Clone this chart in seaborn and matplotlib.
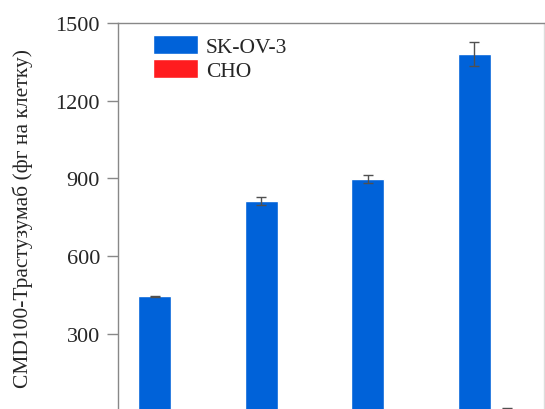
import pandas as pd
import seaborn as sns
import matplotlib.pyplot as plt

# Data
groups = ["1", "2", "3", "4"]
skov3_values = [445, 814, 898, 1380]
skov3_errors = [3, 15, 15, 45]
cho_values = [3, 5, 6, 12]
cho_errors = [1, 1, 1, 2]

data = pd.DataFrame({
    "group": groups * 2,
    "line": ["SK-OV-3"] * 4 + ["CHO"] * 4,
    "value": skov3_values + cho_values,
})
errors = skov3_errors + cho_errors

sns.set_theme(style="white")
plt.rcParams["font.family"] = ["Liberation Serif", "DejaVu Serif"]

fig = plt.figure(figsize=(5.45, 4.1), dpi=100)
ax = fig.add_axes([0.2165, -0.0066, 0.7815, 0.9481])

palette = {"SK-OV-3": "#0062d9", "CHO": "#ff1c1f"}
sns.barplot(data=data, x="group", y="value", hue="line", palette=palette,
            width=0.62, errorbar=None, saturation=1, ax=ax)

# error bars on the bar centres
for patch, err in zip(ax.patches, errors):
    cx = patch.get_x() + patch.get_width() / 2
    ax.errorbar(cx, patch.get_height(), yerr=err, color="#505050",
                capsize=3.5, elinewidth=1, capthick=1, fmt="none")

ax.set_ylim(0, 1500)
ax.set_xlim(-0.5, 3.5)
ax.set_yticks([300, 600, 900, 1200, 1500])
ax.tick_params(axis="y", direction="out", length=8, width=1, color="#888888",
               labelsize=16, pad=5, left=True)
ax.set_xticks([])
ax.set_xlabel("")
ax.set_ylabel("CMD100-Трастузумаб (фг на клетку)", fontsize=15.5, labelpad=16.5)

for side in ["left", "top", "right"]:
    ax.spines[side].set_color("#888888")
    ax.spines[side].set_linewidth(1)
ax.spines["right"].set_color("#dddddd")
ax.spines["bottom"].set_visible(False)

ax.legend(title=None, loc="upper left", bbox_to_anchor=(0.082, 0.97),
          frameon=False, fontsize=15.5, handlelength=2.1, handleheight=1.0,
          borderpad=0, borderaxespad=0, handletextpad=0.35, labelspacing=0.1)

plt.savefig("out.png", dpi=100)
